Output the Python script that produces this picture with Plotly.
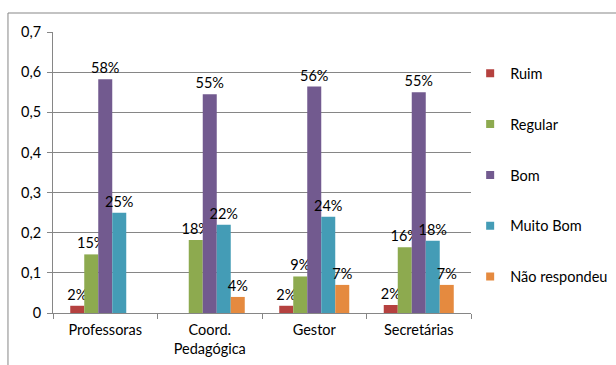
import plotly.graph_objects as go

categories = ["Professoras", "Coord.<br>Pedagógica", "Gestor", "Secretárias"]
series_names = ["Ruim", "Regular", "Bom", "Muito Bom", "Não respondeu"]
ruim = [0.018, 0.0, 0.018, 0.02]
regular = [0.146, 0.182, 0.091, 0.164]
bom = [0.582, 0.545, 0.564, 0.55]
muito_bom = [0.25, 0.22, 0.24, 0.18]
nao_respondeu = [0.0, 0.04, 0.07, 0.07]
y_ticks = [0, 0.1, 0.2, 0.3, 0.4, 0.5, 0.6, 0.7]

series_values = [ruim, regular, bom, muito_bom, nao_respondeu]
colors = ["#b5413f", "#8daa4f", "#725a8f", "#449cb6", "#e58a3f"]

FONT = "Lato"
FS = 14.5

y_ticktext = ["0" if t == 0 else f"{t:.1f}".replace(".", ",") for t in y_ticks]

fig = go.Figure()
for name, vals, col in zip(series_names, series_values, colors):
    labels = [f"{round(v * 100)}%" if v > 0 else "" for v in vals]
    fig.add_trace(go.Bar(
        name=name, x=categories, y=vals, marker=dict(color=col, line=dict(width=0)),
        text=labels, textposition="outside", constraintext="none", cliponaxis=False,
        textfont=dict(family=FONT, size=FS, color="#000000"),
        showlegend=False,
    ))

# legend entries with small square swatches
for name, col in zip(series_names, colors):
    fig.add_trace(go.Scatter(
        name=name, x=[None], y=[None], mode="markers",
        marker=dict(symbol="square", size=8, color=col),
        legendgroup=name, showlegend=True,
    ))

# outer chart frame
fig.add_shape(type="rect", xref="paper", yref="paper",
              x0=-0.1077, x1=1.36, y0=-0.21, y1=1.0676,
              line=dict(color="#878787", width=1), fillcolor="rgba(0,0,0,0)")

fig.update_layout(
    width=616, height=365,
    margin=dict(l=53, r=145, t=32, b=52, autoexpand=False),
    paper_bgcolor="white", plot_bgcolor="white",
    barmode="group", bargap=0.33, bargroupgap=0,
    font=dict(family=FONT, size=FS, color="#000000"),
    showlegend=True,
    legend=dict(x=0.998, y=0.91, xanchor="left", yanchor="top",
                font=dict(family=FONT, size=FS, color="#000000"),
                tracegroupgap=29, traceorder="grouped", itemwidth=30,
                bgcolor="rgba(0,0,0,0)"),
    xaxis=dict(showline=True, linecolor="#868686", linewidth=1,
               ticks="outside", tickson="boundaries", ticklen=5, tickcolor="#868686",
               tickfont=dict(family=FONT, size=FS, color="#000000"),
               ticklabelstandoff=4, automargin=False,
               showgrid=False, zeroline=False),
    yaxis=dict(range=[0, 0.7], tickvals=y_ticks, ticktext=y_ticktext,
               showline=True, linecolor="#868686", linewidth=1,
               ticks="outside", ticklen=5, tickcolor="#868686",
               ticklabelstandoff=3, automargin=False,
               showgrid=True, gridcolor="#868686", gridwidth=1,
               zeroline=False,
               tickfont=dict(family=FONT, size=FS, color="#000000")),
)

fig.write_html("out.html")
